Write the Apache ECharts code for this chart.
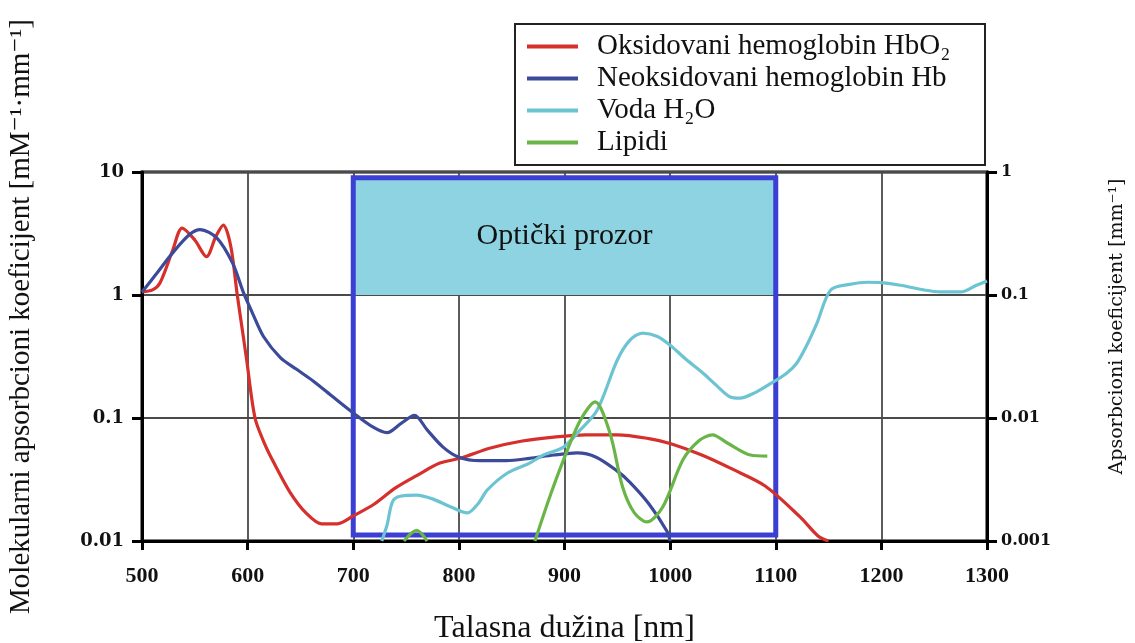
<!DOCTYPE html>
<html>
<head>
<meta charset="utf-8">
<script src="https://cdn.jsdelivr.net/npm/echarts@6/dist/echarts.min.js"></script>
<style>
  html, body { margin: 0; padding: 0; background: #fff; }
  #chart { width: 1135px; height: 643px; }
</style>
</head>
<body>
<div id="chart"></div>
<script>
// wavelength [nm] and molar absorption coefficient [mM-1 mm-1]
var hbo2Nm  = [500, 510, 517, 529, 538, 550, 561, 570, 577, 584, 590, 595, 599, 607, 616, 625, 640, 655, 670, 685, 700, 720, 740, 760, 782, 801, 830, 860, 890, 920, 950, 980, 1000, 1030, 1060, 1090, 1123, 1140, 1150];
var hbo2Val = [1.06, 1.1, 1.25, 2.3, 3.5, 2.8, 2.05, 3.0, 3.7, 2.5, 1.03, 0.52, 0.3, 0.1, 0.062, 0.043, 0.025, 0.017, 0.0138, 0.0138, 0.016, 0.02, 0.027, 0.034, 0.043, 0.047, 0.057, 0.065, 0.07, 0.073, 0.073, 0.068, 0.062, 0.05, 0.038, 0.028, 0.0157, 0.011, 0.01];

var hbNm  = [500, 514, 529, 545, 555, 571, 586, 596, 605, 615, 631, 646, 662, 681, 700, 718, 732, 745, 758, 770, 785, 800, 820, 845, 867, 890, 912, 930, 950, 962, 980, 997, 1000];
var hbVal = [1.06, 1.5, 2.2, 3.1, 3.4, 2.9, 1.8, 1.05, 0.7, 0.46, 0.31, 0.25, 0.2, 0.148, 0.11, 0.085, 0.076, 0.09, 0.105, 0.08, 0.058, 0.048, 0.045, 0.045, 0.047, 0.05, 0.052, 0.048, 0.037, 0.03, 0.02, 0.012, 0.01];

var waterNm  = [727, 732, 738, 750, 760, 775, 792, 808, 818, 827, 846, 867, 880, 899, 915, 931, 950, 962, 974, 988, 1000, 1015, 1031, 1045, 1057, 1066, 1080, 1095, 1110, 1120, 1130, 1139, 1152, 1170, 1187, 1200, 1218, 1240, 1256, 1275, 1290, 1300];
var waterVal = [0.01, 0.0135, 0.0215, 0.0235, 0.0236, 0.022, 0.019, 0.0169, 0.02, 0.026, 0.0357, 0.043, 0.05, 0.058, 0.08, 0.116, 0.296, 0.43, 0.49, 0.46, 0.39, 0.3, 0.232, 0.18, 0.148, 0.145, 0.16, 0.19, 0.23, 0.28, 0.4, 0.59, 1.1, 1.22, 1.27, 1.26, 1.2, 1.1, 1.06, 1.06, 1.2, 1.3];

var lipidNm  = [748, 760, 770, 820, 872, 886, 899, 915, 929, 943, 955, 966, 978, 993, 1012, 1027, 1040, 1055, 1076, 1092];
var lipidVal = [0.01, 0.0122, 0.01, null, 0.01, 0.0228, 0.0455, 0.096, 0.135, 0.0755, 0.0275, 0.017, 0.0143, 0.0189, 0.0455, 0.065, 0.073, 0.062, 0.05, 0.049];

var seriesNames = ['Oksidovani hemoglobin HbO\u2082', 'Neoksidovani hemoglobin Hb', 'Voda H\u2082O', 'Lipidi'];
var seriesColors = ['#d5302b', '#3c4a9a', '#6cc4d3', '#6ab547'];

// optical window [nm]
var windowNm = [700, 1100];

function pairs(xs, ys) {
  return xs.map(function (x, i) { return [x, ys[i] == null ? '-' : ys[i]]; });
}
function fmt(v) { return String(parseFloat(Number(v).toPrecision(6))); }

var myChart = echarts.init(document.getElementById('chart'));

var serif = 'Liberation Serif, DejaVu Serif, serif';
var tickFont = 'DejaVu Serif, serif';

function lineSeries(i, xs, ys) {
  return {
    name: seriesNames[i],
    type: 'line',
    data: pairs(xs, ys),
    smooth: 0.3,
    showSymbol: false,
    z: 2,
    lineStyle: { color: seriesColors[i], width: 3.2 },
    itemStyle: { color: seriesColors[i] }
  };
}

var option = {
  animation: false,
  backgroundColor: '#fff',
  grid: {
    left: 142, right: 148, top: 172, bottom: 102,
    show: true, borderColor: '#000', borderWidth: 3,
    containLabel: false, outerBoundsMode: 'none'
  },
  graphic: [{
    type: 'rect', z: 1,
    shape: { x: 515, y: 24, width: 470, height: 141 },
    style: { fill: '#fff', stroke: '#222', lineWidth: 2 }
  }],
  legend: {
    data: seriesNames,
    orient: 'vertical',
    left: 522, top: 27,
    z: 5,
    icon: 'rect',
    itemWidth: 51, itemHeight: 4,
    itemGap: 3,
    textStyle: { fontFamily: serif, fontSize: 29, color: '#111', padding: [0, 0, 0, 14] }
  },
  xAxis: {
    type: 'value',
    min: 500, max: 1300, interval: 100,
    name: 'Talasna du\u017eina [nm]',
    nameLocation: 'middle', nameGap: 72,
    nameTextStyle: { fontFamily: serif, fontSize: 32, color: '#111' },
    axisLine: { lineStyle: { color: '#000', width: 3 } },
    axisTick: { length: 9, lineStyle: { color: '#000', width: 3 } },
    axisLabel: { margin: 24, formatter: function (v) { return String(v); }, fontFamily: serif, fontWeight: 'bold', fontSize: 22, color: '#111' },
    splitLine: { lineStyle: { color: '#4a4a4a', width: 1.8 } }
  },
  yAxis: [{
    type: 'log', logBase: 10,
    min: 0.01, max: 10,
    position: 'left',
    name: 'Molekularni apsorbcioni koeficijent [mM\u207b\u00b9\u00b7mm\u207b\u00b9]',
    nameLocation: 'middle', nameRotate: 90, nameGap: 106,
    nameTextStyle: { fontFamily: serif, fontSize: 29, color: '#111', padding: [0, 0, 0, 80] },
    axisLine: { show: true, lineStyle: { color: '#000', width: 3 } },
    axisTick: { show: true, length: 10, lineStyle: { color: '#000', width: 3 } },
    axisLabel: { margin: 18, formatter: fmt, fontFamily: tickFont, fontWeight: 'bold', fontSize: 18, color: '#111' },
    splitLine: { show: true, lineStyle: { color: '#4a4a4a', width: 1.8 } }
  }, {
    type: 'log', logBase: 10,
    min: 0.001, max: 1,
    position: 'right',
    name: 'Apsorbcioni koeficijent [mm\u207b\u00b9]',
    nameLocation: 'middle', nameRotate: 90, nameGap: 121,
    nameTextStyle: { fontFamily: tickFont, fontSize: 19, color: '#111', padding: [0, 0, 0, 60] },
    axisLine: { show: true, lineStyle: { color: '#000', width: 3 } },
    axisTick: { show: true, length: 10, lineStyle: { color: '#000', width: 3 } },
    axisLabel: { margin: 14, formatter: fmt, fontFamily: tickFont, fontWeight: 'bold', fontSize: 16, color: '#111' },
    splitLine: { show: false }
  }],
  series: [
    lineSeries(0, hbo2Nm, hbo2Val),
    lineSeries(1, hbNm, hbVal),
    lineSeries(2, waterNm, waterVal),
    lineSeries(3, lipidNm, lipidVal),
    {
      name: 'prozor',
      type: 'line',
      data: [],
      z: 3,
      markArea: {
        silent: true,
        label: {
          show: true, position: 'inside',
          fontFamily: serif, fontSize: 30, color: '#111',
          formatter: function (p) { return p.name || ''; }
        },
        data: [
          [{ name: 'Opti\u010dki prozor', xAxis: windowNm[0], yAxis: 1, itemStyle: { color: '#8dd3e2' } },
           { xAxis: windowNm[1], yAxis: 9 }],
          [{ name: '', xAxis: windowNm[0], yAxis: 0.0112, itemStyle: { color: 'rgba(0,0,0,0)', borderColor: '#3b3fd4', borderWidth: 5 } },
           { xAxis: windowNm[1], yAxis: 9 }]
        ]
      }
    }
  ]
};

myChart.setOption(option);
</script>
</body>
</html>
